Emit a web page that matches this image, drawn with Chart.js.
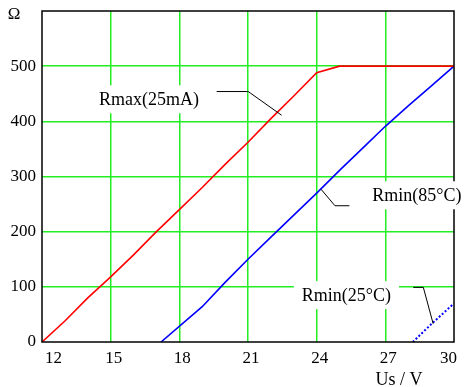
<!DOCTYPE html>
<html>
<head>
<meta charset="utf-8">
<script src="https://cdn.jsdelivr.net/npm/chart.js@4/dist/chart.umd.min.js"></script>
<style>
html,body{margin:0;padding:0;background:#fff;}
#wrap{width:464px;height:387px;}
</style>
</head>
<body>
<div id="wrap"><canvas id="c" width="464" height="387"></canvas></div>
<script>
// ---- data ----
const usRmax   = [12, 13, 14, 15, 16, 17, 18, 19, 20, 21, 22, 23, 24, 25, 26, 27, 28, 29, 30];
const rmax     = [0, 38, 80, 118, 158, 200, 240, 280, 322, 362, 405, 446, 488, 500, 500, 500, 500, 500, 500];
const usRmin85 = [17.2, 19, 20, 21, 22, 23, 24, 25, 26, 27, 28, 29, 30];
const rmin85   = [0, 64, 108, 150, 190, 230, 270, 311, 351, 391, 428, 464, 500];
const usRmin25 = [28.2, 29, 30];
const rmin25   = [0, 32, 70];
const xTicks   = [12, 15, 18, 21, 24, 27, 30];
const yTicks   = [0, 100, 200, 300, 400, 500];
const yUnit    = 'Ω';
const xTitle   = 'Us / V';
// annotation labels: text, label anchor (data coords), leader polyline (data coords)
const labelTexts = ['Rmax(25mA)', 'Rmin(85°C)', 'Rmin(25°C)'];
const labelAt    = [[16.67, 440], [28.38, 266], [25.3, 85]];
const leaders    = [
  [[19.63, 454], [21.01, 454], [22.47, 411]],
  [[25.43, 247], [24.8, 247], [24.19, 277]],
  [[28.22, 99], [28.66, 99], [29.09, 33]]
];

const zip = (xs, ys) => xs.map((x, i) => ({x: x, y: ys[i]}));
const FONT = '"Liberation Serif", "Times New Roman", serif';

const overlay = {
  id: 'overlay',
  afterDatasetsDraw(chart) {
    const ctx = chart.ctx, a = chart.chartArea;
    const xs = chart.scales.x, ys = chart.scales.y;
    ctx.save();
    // frame
    ctx.strokeStyle = '#000';
    ctx.lineWidth = 1.5;
    ctx.strokeRect(a.left, a.top, a.right - a.left, a.bottom - a.top);
    // labels with white boxes
    ctx.font = '18px ' + FONT;
    ctx.textAlign = 'center';
    ctx.textBaseline = 'middle';
    labelTexts.forEach((t, i) => {
      const px = xs.getPixelForValue(labelAt[i][0]);
      const py = ys.getPixelForValue(labelAt[i][1]);
      const w = ctx.measureText(t).width;
      ctx.fillStyle = '#fff';
      ctx.fillRect(px - w / 2 - 8, py - 14, w + 16, 28);
      ctx.fillStyle = '#000';
      ctx.fillText(t, px, py + 1);
    });
    // leader lines
    ctx.strokeStyle = '#000';
    ctx.lineWidth = 1;
    leaders.forEach(pl => {
      ctx.beginPath();
      pl.forEach((p, j) => {
        const px = xs.getPixelForValue(p[0]);
        const py = ys.getPixelForValue(p[1]);
        if (j === 0) ctx.moveTo(px, py); else ctx.lineTo(px, py);
      });
      ctx.stroke();
    });
    // unit and axis title
    ctx.fillStyle = '#000';
    ctx.font = '17px ' + FONT;
    ctx.textAlign = 'center';
    ctx.fillText(yUnit, 14, a.top + 4);
    ctx.font = '18px ' + FONT;
    ctx.fillText(xTitle, xs.getPixelForValue(27.6), a.bottom + 38);
    ctx.restore();
  }
};

new Chart(document.getElementById('c'), {
  type: 'line',
  data: {
    datasets: [
      {label: 'Rmax(25mA)', data: zip(usRmax, rmax), borderColor: '#ff0000', borderWidth: 1.6, pointRadius: 0, tension: 0, fill: false},
      {label: 'Rmin(85°C)', data: zip(usRmin85, rmin85), borderColor: '#0000ff', borderWidth: 1.6, pointRadius: 0, tension: 0, fill: false},
      {label: 'Rmin(25°C)', data: zip(usRmin25, rmin25), borderColor: '#0000ff', borderWidth: 2, borderDash: [2, 2], pointRadius: 0, tension: 0, fill: false}
    ]
  },
  options: {
    responsive: false,
    animation: false,
    events: [],
    layout: {padding: {top: 11, right: 10, left: 0, bottom: 0}},
    plugins: {legend: {display: false}, tooltip: {enabled: false}},
    scales: {
      x: {
        type: 'linear', min: 12, max: 30,
        afterBuildTicks: s => { s.ticks = xTicks.map(v => ({value: v})); },
        afterFit: s => { s.height = 45; s.paddingLeft = 0; s.paddingRight = 0; },
        grid: {color: c => (c.tick && (c.tick.value === 12 || c.tick.value === 30)) ? 'rgba(0,0,0,0)' : '#22ee22', lineWidth: 1.5, drawTicks: false},
        border: {display: false},
        ticks: {color: '#000', font: {family: FONT, size: 17}, padding: 6, labelOffset: 3, align: 'inner', maxRotation: 0, autoSkip: false}
      },
      y: {
        type: 'linear', min: 0, max: 600,
        afterBuildTicks: s => { s.ticks = yTicks.concat([600]).map(v => ({value: v})); },
        afterFit: s => { s.width = 42; s.paddingTop = 0; s.paddingBottom = 0; },
        grid: {color: c => (c.tick && (c.tick.value === 0 || c.tick.value === 600)) ? 'rgba(0,0,0,0)' : '#22ee22', lineWidth: 1.5, drawTicks: false},
        border: {display: false},
        ticks: {color: '#000', font: {family: FONT, size: 17}, padding: 6, autoSkip: false,
          callback: v => (v === 600 ? '' : String(v))}
      }
    }
  },
  plugins: [overlay]
});
</script>
</body>
</html>
